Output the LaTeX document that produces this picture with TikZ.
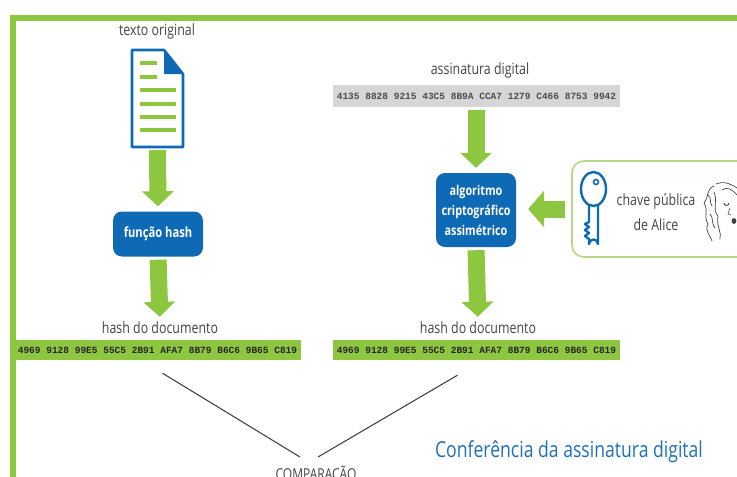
\documentclass[tikz,border=0pt]{standalone}
\usepackage{fontspec}
\setmainfont{Open Sans}[FakeStretch=0.8]
\newfontfamily\hexfont{Liberation Mono}
\usetikzlibrary{arrows.meta, positioning, calc}

\definecolor{verde}{RGB}{141,198,63}
\definecolor{verdeclaro}{RGB}{180,216,132}
\definecolor{azul}{RGB}{14,106,180}
\definecolor{cinza}{RGB}{68,68,68}
\definecolor{barra}{RGB}{214,214,214}
\definecolor{titulo}{RGB}{30,112,185}

\tikzset{
  rotulo/.style={text=cinza, inner sep=0pt, font=\fontsize{15.5}{17}\selectfont},
  processo/.style={fill=azul, text=white, rounded corners=9pt, align=center,
    font=\bfseries\fontsize{14}{16}\selectfont},
  codigo/.style={minimum width=287pt, minimum height=20pt, inner sep=0pt,
    text=black!85, font=\hexfont\bfseries\fontsize{9.5}{10}\selectfont},
  seta/.style={verde, line width=17pt, -{Triangle[length=15pt,width=31pt]},
    shorten <=3pt, shorten >=5pt},
  ligacao/.style={cinza, line width=1.1pt},
}

\begin{document}
\begin{tikzpicture}[x=1pt, y=-1pt]
  \useasboundingbox (0,0) rectangle (737,477);
  \clip (0,0) rectangle (737,477);

  % moldura
  \draw[verde, line width=5.5pt] (13,477) -- (13,18) -- (737,18);

  % documento original
  \node[rotulo] (txt) at (157,31) {texto original};
  \node[minimum width=51pt, minimum height=97pt, inner sep=0pt] (doc) at (157.5,98.5) {};
  \draw[azul, line width=2.6pt, line join=round]
    (132,50) -- (164,50) -- (183,74) -- (183,147) -- (132,147) -- cycle;
  \fill[azul] (164,50) -- (183,74) -- (164,74) -- cycle;
  \foreach \y/\xf in {63/157, 77/157, 90/176, 104/176, 117/176, 130/176}
    \draw[verde, line width=4.5pt] (140,\y) -- (\xf,\y);

  % lado esquerdo: hash do texto
  \node[processo, minimum width=90pt, minimum height=45pt] (fhash) at (158,234) {função hash};
  \node[rotulo] (lblA) at (160,328) {hash do documento};
  \node[codigo, fill=verde] (barA) at (157.5,350)
    {4969 9128 99E5 55C5 2B91 AFA7 8B79 B6C6 9B65 C819};
  \draw[seta] (doc.south) -- (fhash.north);
  \draw[seta] (fhash.south) -- (lblA.north);

  % lado direito: assinatura
  \node[rotulo] (lblSig) at (480,70) {assinatura digital};
  \node[codigo, fill=barra, minimum height=22pt, text=black!70] (sig) at (476.5,96)
    {4135 8828 9215 43C5 8B9A CCA7 1279 C466 8753 9942};
  \node[processo, minimum width=80pt, minimum height=74pt,
        font=\bfseries\fontsize{13.5}{20}\selectfont] (algo) at (476,210)
    {algoritmo\\criptográfico\\assimétrico};
  \node[rotulo] (lblB) at (478,328) {hash do documento};
  \node[codigo, fill=verde] (barB) at (476.5,350)
    {4969 9128 99E5 55C5 2B91 AFA7 8B79 B6C6 9B65 C819};
  \draw[seta] (sig.south -| algo.north) -- (algo.north);
  \draw[seta] (algo.south) -- (lblB.north);

  % chave publica
  \node[draw=verdeclaro, line width=1.6pt, rounded corners=12pt,
        minimum width=188pt, minimum height=96pt] (key) at (666,209) {};
  \node[rotulo, align=center, font=\fontsize{15.5}{25}\selectfont] (chave) at (656,212)
    {chave pública\\de Alice};
  \draw[seta, -{Triangle[length=16pt,width=36pt]}, shorten <=6pt, shorten >=12pt]
    (key.west) -- (key.west -| algo.east);

  % icone da chave
  \draw[azul, line width=2.4pt, line join=round]
    (589,205) -- (589,222) -- (585,224) -- (589,227) -- (585,230) -- (589,233)
    -- (585,236) -- (589,239) -- (589,244) arc[start angle=180, end angle=360, radius=4.5]
    -- (598,205);
  \draw[azul, line width=2.4pt] (593.5,189) ellipse (12.5 and 17);
  \draw[azul, line width=1.6pt] (596,182) circle (2.5);

  % Alice (esboco)
  \draw[cinza, line width=0.7pt, line cap=round]
    (714,186) .. controls (706,189) and (709,197) .. (704,203)
    (704,203) .. controls (709,210) and (703,216) .. (708,224)
    (708,224) .. controls (704,231) and (711,236) .. (712,241)
    (716,184) .. controls (722,181) and (730,183) .. (737,188)
    (714,192) .. controls (718,200) and (712,210) .. (718,216)
    (718,216) .. controls (716,226) and (722,232) .. (720,239)
    (722,190) .. controls (727,186) and (733,190) .. (737,195)
    (708,195) .. controls (712,198) and (709,202) .. (712,206)
    (710,214) .. controls (714,218) and (711,224) .. (715,228);
  \draw[cinza, line width=0.9pt] (724,203) arc[start angle=180, end angle=0, radius=2.5];
  \fill[cinza] (734,221) ellipse (2.4 and 3);
  \draw[cinza, line width=0.6pt] (730,208) -- (728,214) -- (731,215);

  % comparacao
  \coordinate (cmpA) at (300,457);
  \coordinate (cmpB) at (318,457);
  \node[rotulo, anchor=north, font=\fontsize{15}{16}\selectfont] (cmp) at (316,466) {COMPARAÇÃO};
  \draw[ligacao] ($(barA.south)+(5,13)$) -- (cmpA);
  \draw[ligacao] ($(barB.south)+(-19,15)$) -- (cmpB);

  % titulo
  \node[text=titulo, inner sep=0pt, font=\fontsize{22}{24}\selectfont] (tit) at (569,452)
    {Conferência da assinatura digital};
\end{tikzpicture}
\end{document}
